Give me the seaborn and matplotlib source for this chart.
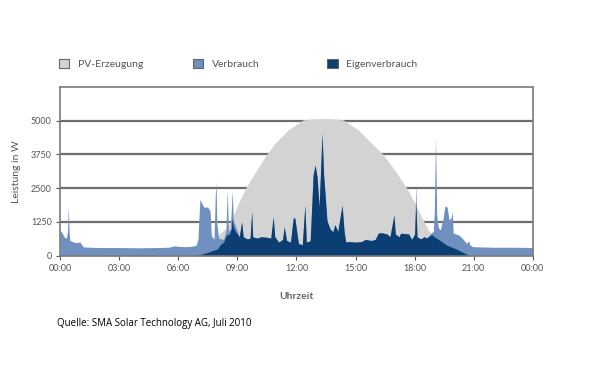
import numpy as np
import seaborn as sns
import matplotlib.pyplot as plt
from matplotlib.patches import Patch

# PV-Erzeugung (Stunde, Watt)
pv_h = [6.0, 6.5, 7.0, 7.5, 8.0, 8.4, 8.71, 9.05, 9.44, 9.98, 10.49, 10.91, 11.58,
        12.35, 12.9, 13.5, 14.0, 14.38, 15.14, 15.82, 16.4, 16.99, 17.59, 18.01,
        18.43, 18.7, 18.86, 19.27, 19.6, 20.1, 20.5, 20.8]
pv_w = [0, 120, 300, 500, 750, 1000, 1320, 1940, 2520, 3170, 3750, 4160, 4660,
        5030, 5070, 5080, 5060, 5030, 4660, 4160, 3750, 3170, 2520, 1940,
        1320, 950, 800, 575, 400, 250, 100, 0]

# Verbrauch (Stunde, Watt)
vb_h = [0.0, 0.1, 0.2, 0.33, 0.38, 0.42, 0.46, 0.5, 0.7, 0.9, 1.0, 1.1, 1.2, 1.5,
        2.0, 3.0, 4.0, 5.0, 5.5, 5.8, 6.1, 6.4, 6.7, 6.9, 7.0, 7.1, 7.19, 7.3, 7.5,
        7.62, 7.68, 7.82, 7.88, 7.92, 7.96, 8.05, 8.3, 8.42, 8.49, 8.55, 8.65, 8.74,
        8.8, 8.9, 9.0, 9.1, 9.22, 9.3, 9.5, 9.65, 9.73, 9.78, 10.0, 10.2, 10.5, 10.7,
        10.82, 10.9, 11.1, 11.3, 11.38, 11.5, 11.7, 11.84, 11.92, 12.1, 12.3, 12.43,
        12.5, 12.7, 12.85, 12.95, 13.05, 13.15, 13.22, 13.3, 13.38, 13.45, 13.55,
        13.7, 13.85, 13.95, 14.1, 14.32, 14.42, 14.5, 14.7, 15.0, 15.3, 15.5, 15.8,
        16.0, 16.15, 16.3, 16.6, 16.75, 16.95, 17.02, 17.2, 17.3, 17.7, 17.85, 18.0,
        18.06, 18.12, 18.3, 18.5, 18.6, 18.86, 18.95, 19.0, 19.06, 19.12, 19.2, 19.3,
        19.45, 19.54, 19.65, 19.75, 19.85, 19.91, 19.96, 20.2, 20.35, 20.63, 20.75,
        20.8, 20.95, 21.5, 22.0, 23.0, 24.0]
vb_w = [950, 850, 700, 650, 900, 1800, 900, 560, 500, 480, 520, 400, 320, 310,
        300, 300, 290, 300, 310, 360, 340, 330, 350, 380, 600, 2080, 1950, 1800, 1800,
        1650, 760, 600, 2200, 2740, 1200, 650, 600, 900, 2430, 900, 1000, 2400,
        1300, 1100, 900, 700, 1250, 700, 620, 650, 1625, 700, 650, 700, 680, 650,
        1440, 700, 500, 600, 1070, 560, 500, 1400, 1390, 450, 400, 1870,
        500, 550, 3000, 3360, 2900, 1800, 3000, 4530, 3000, 2320, 1300,
        1000, 880, 1150, 900, 1870, 900, 510, 520, 500, 520, 600, 560,
        600, 830, 850, 800, 700, 1500, 800, 700, 830, 800, 600, 800,
        2690, 700, 620, 700, 650, 850, 900, 1600, 4430, 1500, 1050, 950,
        1400, 1840, 1800, 1320, 1400, 1620, 830, 780, 700, 460, 550,
        400, 330, 320, 310, 310, 300]

# Eigenverbrauch (Stunde, Watt)
ev_h = [6.9, 7.2, 7.5, 7.8, 8.0, 8.12, 8.3, 8.45, 8.6, 8.7, 8.74, 8.8, 8.9, 9.0,
        9.1, 9.22, 9.3, 9.5, 9.65, 9.73, 9.78, 10.0, 10.2, 10.5, 10.7, 10.82, 10.9,
        11.1, 11.3, 11.38, 11.5, 11.7, 11.84, 11.92, 12.1, 12.3, 12.43, 12.5, 12.7,
        12.85, 12.95, 13.05, 13.15, 13.22, 13.3, 13.38, 13.45, 13.55, 13.7, 13.85,
        13.95, 14.1, 14.32, 14.42, 14.5, 14.7, 15.0, 15.3, 15.5, 15.8, 16.0, 16.15,
        16.3, 16.6, 16.75, 16.95, 17.02, 17.2, 17.3, 17.7, 17.85, 18.0, 18.06, 18.12,
        18.3, 18.5, 18.6, 18.86, 19.0, 19.27, 19.6, 20.1, 20.5, 20.8]
ev_w = [0, 60, 120, 200, 250, 390, 500, 760, 800, 1000, 1390, 1070, 900, 800,
        700, 1250, 700, 620, 650, 1625, 700, 650, 700, 680, 650, 1440, 700,
        500, 600, 1070, 560, 500, 1400, 1390, 450, 400, 1870, 500, 550,
        3000, 3360, 2900, 1800, 3000, 4530, 3000, 2320, 1300, 1000, 880,
        1150, 900, 1870, 900, 510, 520, 500, 520, 600, 560, 600, 830,
        850, 800, 700, 1500, 800, 700, 830, 800, 600, 800, 1950, 700,
        620, 700, 650, 780, 700, 575, 400, 250, 100, 0]

x_ticks = [0, 3, 6, 9, 12, 15, 18, 21, 24]
x_labels = ["00:00", "03:00", "06:00", "09:00", "12:00", "15:00", "18:00", "21:00", "00:00"]
y_ticks = [0, 1250, 2500, 3750, 5000]

c_pv = "#d3d3d3"
c_vb = "#7090bf"
c_ev = "#0b3e72"
c_txt = "#555555"

sns.set_style("white")
plt.rcParams['font.family'] = ['Lato', 'DejaVu Sans']

fig = plt.figure(figsize=(5.94, 3.71), dpi=100)
ax = fig.add_axes([0.101, 0.311, 0.796, 0.4545])

ax.fill_between(pv_h, pv_w, color=c_pv, lw=0, zorder=2)
ax.fill_between(vb_h, vb_w, color=c_vb, lw=0, zorder=3)
ax.fill_between(ev_h, ev_w, color=c_ev, lw=0, zorder=4)

for y in y_ticks[1:]:
    ax.axhline(y, color="#6e6e6e", lw=1.6, zorder=1)

ax.set_xlim(0, 24)
ax.set_ylim(0, 6250)
ax.set_xticks(x_ticks)
ax.set_xticklabels(x_labels)
ax.set_yticks(y_ticks)
ax.tick_params(axis="both", labelsize=6.5, colors=c_txt, length=3, width=0.8,
               direction="out", bottom=True, left=True, pad=3)
for s in ax.spines.values():
    s.set_color("#7a7a7a")
    s.set_linewidth(1.2)
    s.set_zorder(5)

ax.set_ylabel("Leistung in W", fontsize=7.5, color=c_txt, labelpad=7)
ax.set_xlabel("Uhrzeit", fontsize=7.5, color="#666666", labelpad=14, fontweight="bold")

items = [("PV-Erzeugung", c_pv, 0.099), ("Verbrauch", c_vb, 0.325), ("Eigenverbrauch", c_ev, 0.551)]
for lab, col, xp in items:
    h = Patch(facecolor=col, edgecolor="#666666", linewidth=0.8)
    fig.legend([h], [lab], loc="center left", bbox_to_anchor=(xp, 0.827), frameon=False,
               fontsize=7.5, labelcolor=c_txt, handlelength=1.0, handleheight=1.0,
               handletextpad=0.8, borderpad=0, borderaxespad=0)

fig.text(0.096, 0.129, "Quelle: SMA Solar Technology AG, Juli 2010", fontsize=7,
         color="black", family=["Open Sans", "DejaVu Sans"], va="center")

fig.savefig("out.png", dpi=100)
